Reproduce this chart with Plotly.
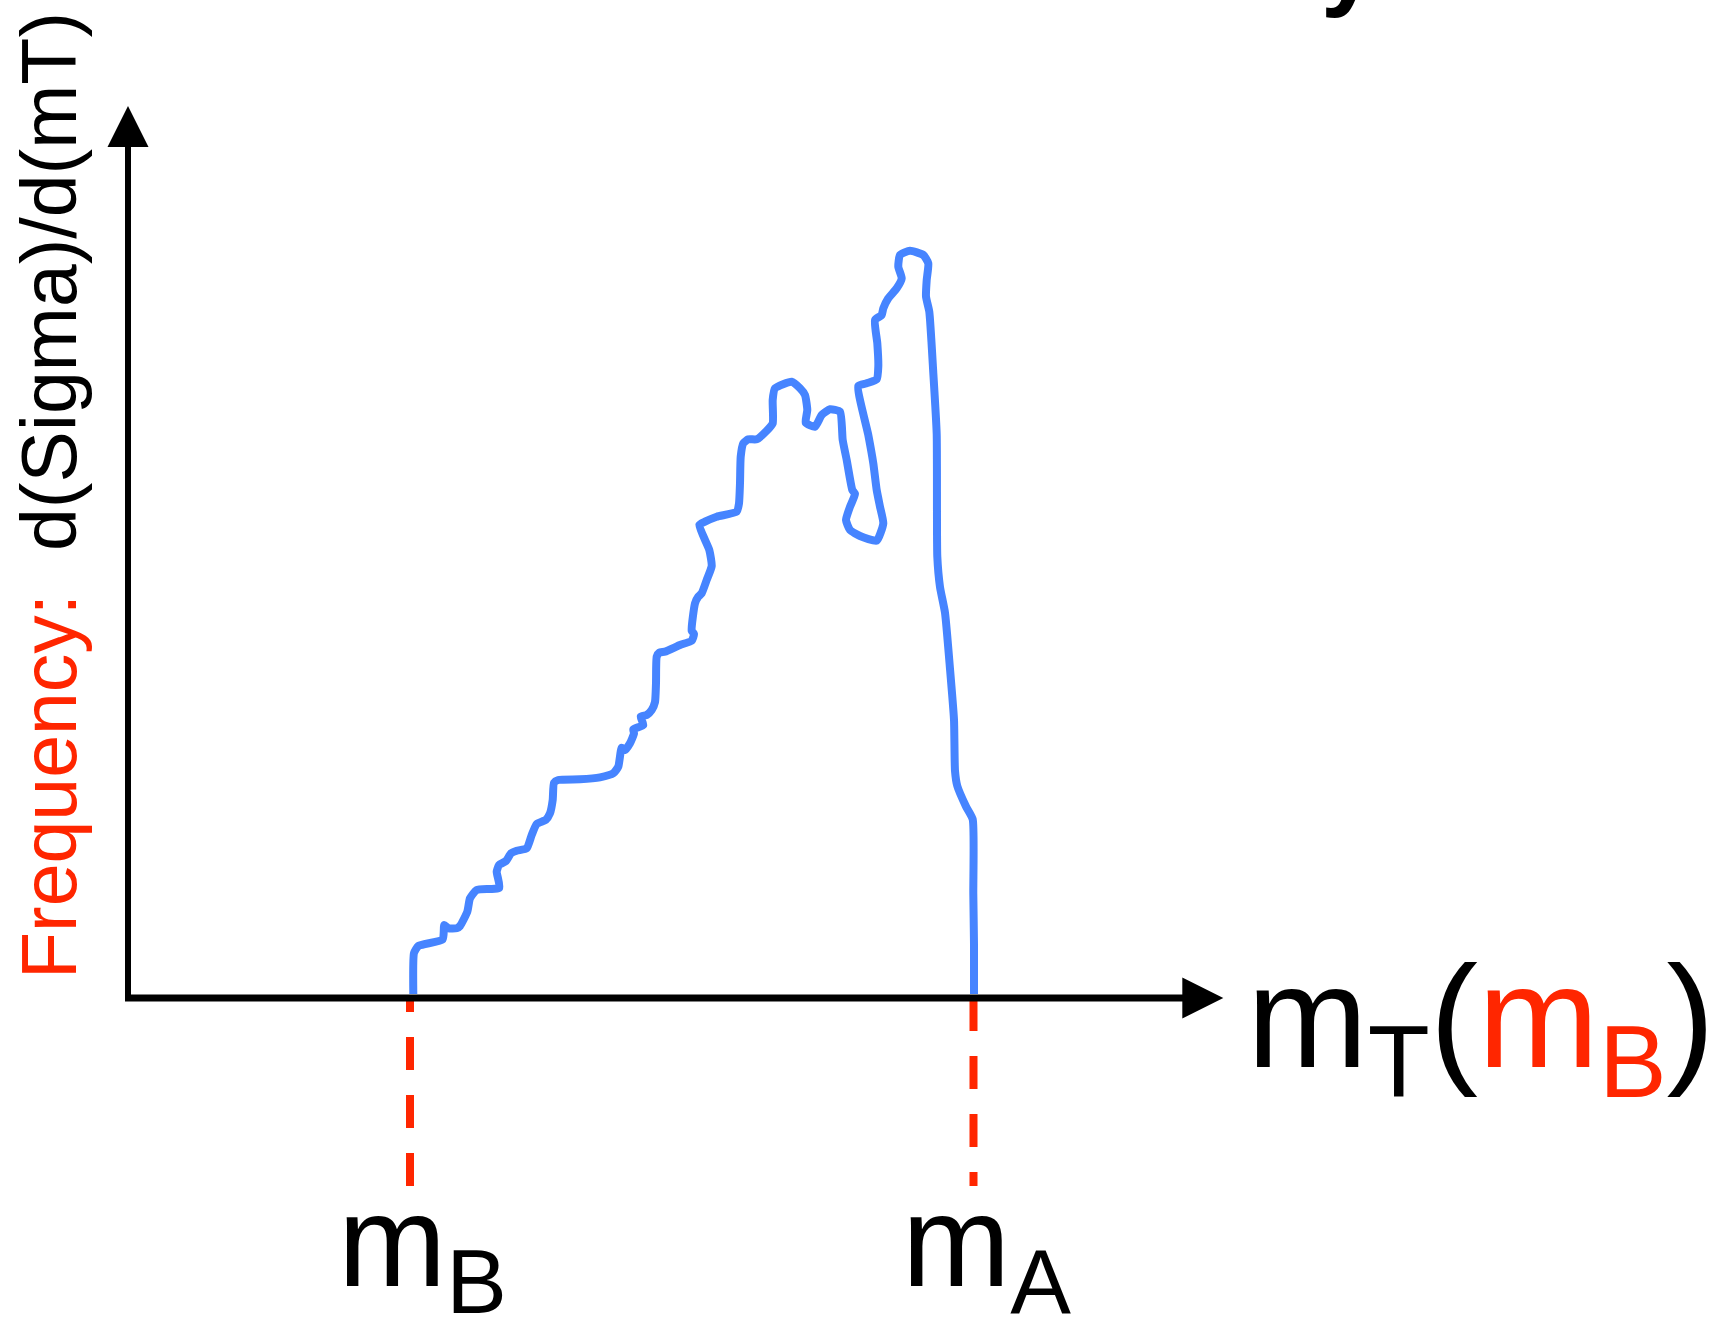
import plotly.graph_objects as go

W, H = 1720, 1318

# Transverse-mass samples along the drawn spectrum (arbitrary units, origin at 0)
mt_trace = [
    2.853, 2.860, 2.903, 3.147, 3.163, 3.203, 3.287, 3.320, 3.393, 3.420,
    3.487, 3.713, 3.687, 3.710, 3.780, 3.830, 3.887, 3.987, 4.037, 4.087,
    4.177, 4.220, 4.247, 4.260, 4.303, 4.520, 4.720, 4.853, 4.903, 4.937,
    4.970, 5.020, 5.060, 5.053, 5.153, 5.127, 5.187, 5.237, 5.270, 5.280,
    5.287, 5.313, 5.370, 5.520, 5.637, 5.660, 5.637, 5.670, 5.703, 5.737,
    5.787, 5.837, 5.813, 5.713, 5.770, 5.887, 6.087, 6.110, 6.120, 6.127,
    6.153, 6.203, 6.287, 6.387, 6.447, 6.447, 6.470, 6.637, 6.720, 6.770,
    6.793, 6.777, 6.870, 6.937, 7.020, 7.120, 7.147, 7.187, 7.243, 7.270,
    7.220, 7.180, 7.220, 7.320, 7.487, 7.553, 7.520, 7.487, 7.453, 7.403,
    7.303, 7.387, 7.487, 7.503, 7.493, 7.470, 7.537, 7.553, 7.603, 7.687,
    7.737, 7.703, 7.720, 7.820, 7.953, 8.003, 7.987, 7.980, 8.013, 8.053,
    8.087, 8.093, 8.120, 8.170, 8.220, 8.260, 8.270, 8.293, 8.380, 8.447,
    8.453, 8.460, 8.460,
]

# Frequency d(Sigma)/d(mT) at each sample (arbitrary units)
freq_trace = [
    0.040, 0.450, 0.520, 0.587, 0.730, 0.697, 0.697, 0.720, 0.863, 0.997,
    1.080, 1.103, 1.263, 1.330, 1.370, 1.447, 1.473, 1.497, 1.630, 1.740,
    1.780, 1.847, 1.980, 2.153, 2.180, 2.187, 2.207, 2.247, 2.313, 2.503,
    2.480, 2.547, 2.647, 2.687, 2.730, 2.813, 2.830, 2.880, 2.960, 3.147,
    3.413, 3.453, 3.463, 3.530, 3.573, 3.640, 3.673, 3.947, 4.013, 4.047,
    4.180, 4.320, 4.480, 4.730, 4.763, 4.813, 4.863, 4.947, 5.147, 5.413,
    5.547, 5.587, 5.587, 5.673, 5.747, 5.980, 6.097, 6.163, 6.097, 6.030,
    5.880, 5.753, 5.713, 5.830, 5.887, 5.863, 5.580, 5.380, 5.080, 5.040,
    4.913, 4.780, 4.680, 4.620, 4.573, 4.747, 4.913, 5.080, 5.347, 5.630,
    6.120, 6.147, 6.187, 6.313, 6.547, 6.780, 6.830, 6.897, 6.997, 7.097,
    7.197, 7.313, 7.430, 7.473, 7.430, 7.347, 7.180, 7.013, 6.863, 6.251,
    5.640, 4.415, 4.110, 3.853, 3.292, 2.782, 2.272, 2.120, 1.915, 1.787,
    1.047, 0.537, 0.040,
]

# Kinematic endpoints marked on the mT axis
m_B = 2.82
m_A = 8.455

# Extent of the hand-drawn axes (tips of the arrows)
x_tip = 10.953
y_tip = 8.92
head_len = 0.41
head_half = 0.205

BLUE = "#4684FF"
RED = "#FF2600"
FONT = "Liberation Sans, Arial, Helvetica, sans-serif"

fig = go.Figure()

fig.add_trace(go.Scatter(
    x=mt_trace, y=freq_trace, mode="lines",
    line=dict(color=BLUE, width=8, shape="spline", smoothing=0.5),
    hoverinfo="skip", showlegend=False,
))

shapes = [
    # y axis with arrowhead
    dict(type="line", x0=0, x1=0, y0=-0.03, y1=y_tip - head_len + 0.02,
         line=dict(color="black", width=6)),
    dict(type="path",
         path=f"M {-head_half},{y_tip - head_len} L {head_half},{y_tip - head_len} L 0,{y_tip} Z",
         fillcolor="black", line=dict(width=0)),
    # x axis with arrowhead
    dict(type="line", x0=-0.03, x1=x_tip - head_len + 0.02, y0=0, y1=0,
         line=dict(color="black", width=7)),
    dict(type="path",
         path=f"M {x_tip - head_len},{-head_half} L {x_tip - head_len},{head_half} L {x_tip},0 Z",
         fillcolor="black", line=dict(width=0)),
    # dashed drop lines at the endpoints
    dict(type="line", x0=m_B, x1=m_B, y0=-1.88, y1=0, layer="below",
         line=dict(color=RED, width=8, dash="33px,25px")),
    dict(type="line", x0=m_A, x1=m_A, y0=0, y1=-1.88, layer="below",
         line=dict(color=RED, width=8, dash="33px,25px")),
]

annotations = [
    dict(text=f"<span style='color:{RED}'>Frequency:</span>\u00a0 d(Sigma)/d(mT)",
         textangle=-90, xref="paper", yref="paper",
         x=49 / W, y=1 - 496 / H, xanchor="center", yanchor="middle",
         showarrow=False, font=dict(family=FONT, size=77, color="black")),
    dict(text=f"m<sub>T</sub>(<span style='color:{RED}'>m<sub>B</sub></span>)",
         xref="paper", yref="paper", x=1245 / W, y=1 - 934 / H,
         xanchor="left", yanchor="top", showarrow=False,
         font=dict(family=FONT, size=145, color="black")),
    dict(text="m<sub>B</sub>", xref="x", yref="y", x=m_B, y=-1.68,
         xanchor="left", yanchor="top", xshift=-74, showarrow=False,
         font=dict(family=FONT, size=130, color="black")),
    dict(text="m<sub>A</sub>", xref="x", yref="y", x=m_A, y=-1.68,
         xanchor="left", yanchor="top", xshift=-74, showarrow=False,
         font=dict(family=FONT, size=130, color="black")),
    dict(text="<b>y</b>", xref="paper", yref="paper", x=1319 / W, y=1 - 20 / H,
         xanchor="left", yanchor="bottom", showarrow=False,
         font=dict(family=FONT, size=100, color="black")),
]

fig.update_layout(
    width=W, height=H,
    margin=dict(l=0, r=0, t=0, b=0),
    paper_bgcolor="white", plot_bgcolor="white",
    xaxis=dict(range=[-1.28, 15.92], visible=False, fixedrange=True),
    yaxis=dict(range=[-3.2, 9.98], visible=False, fixedrange=True),
    shapes=shapes, annotations=annotations,
    showlegend=False,
)

fig.write_html("out.html")
